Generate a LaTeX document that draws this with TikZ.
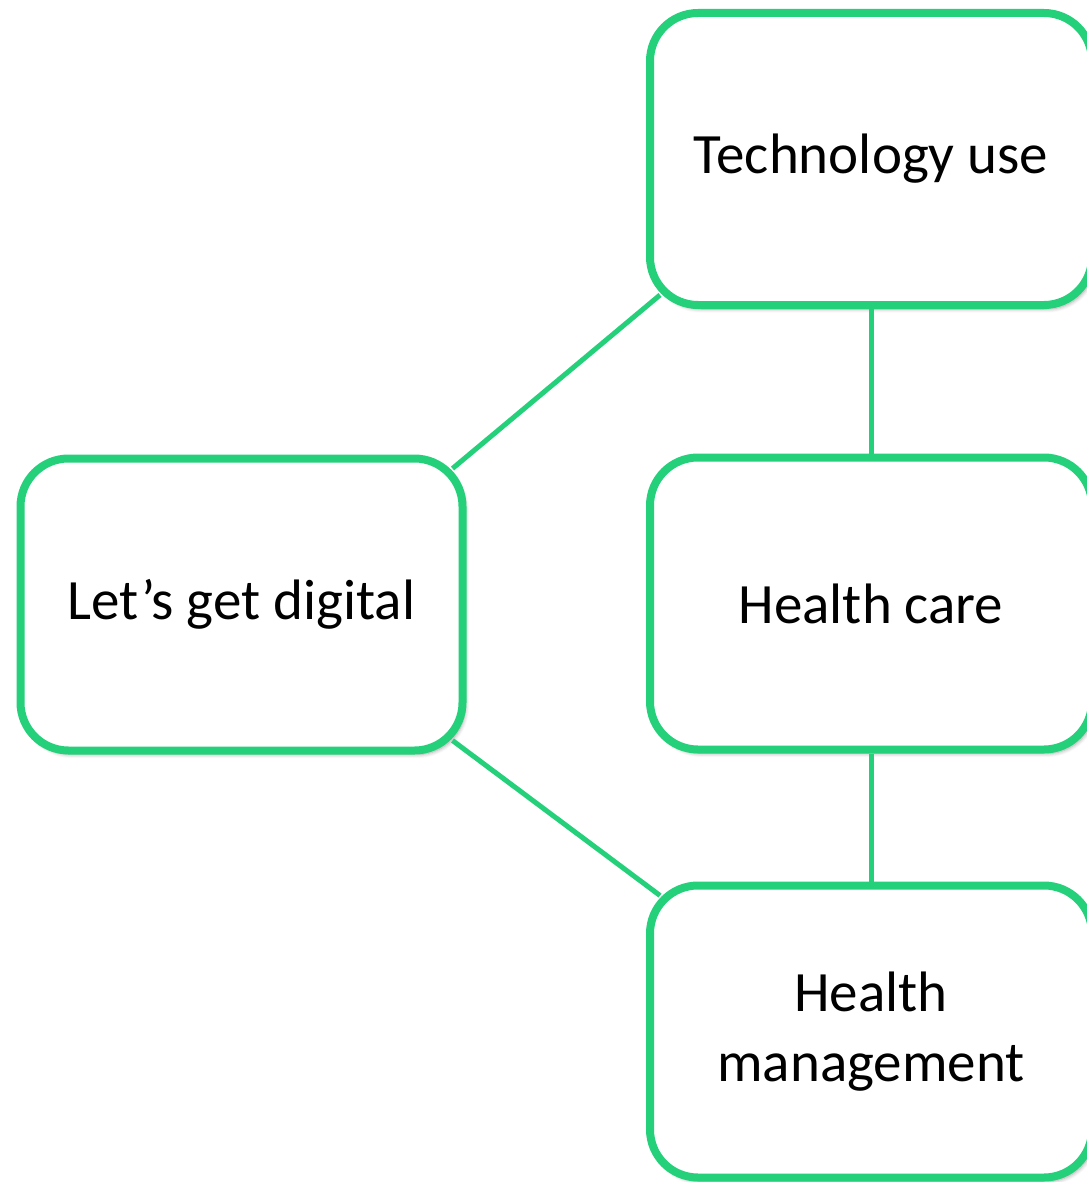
\documentclass[tikz,border=0pt]{standalone}
\usepackage{fontspec}
\setmainfont{Carlito}
\usepackage{tikz}
\usetikzlibrary{shadows.blur}
\definecolor{boxgreen}{RGB}{36,208,122}

\begin{document}
\begin{tikzpicture}[
  topic/.style={draw=boxgreen, line width=4pt, rounded corners=24pt, fill=white,
    minimum width=221pt, minimum height=146pt, align=center,
    font=\fontsize{28.5}{35}\selectfont,
    blur shadow={shadow xshift=1.5pt, shadow yshift=-2pt, shadow blur steps=6, shadow opacity=35}},
  link/.style={draw=boxgreen, line width=2.5pt}]
\useasboundingbox (0,0) rectangle (543pt,-591pt);
\node[topic] (tech) at (435.5pt,-79.5pt) {Technology use};
\node[topic] (care) at (435.5pt,-301.75pt) {Health care};
\node[topic] (mgmt) at (435.5pt,-515.75pt) {Health\\management};
\node[topic] (digital) at (120.75pt,-302.25pt) {Let’s get digital};
\draw[link] ([shift={(-7pt,-7pt)}]digital.north east) -- ([shift={(7pt,7pt)}]tech.south west);
\draw[link] ([shift={(-7pt,7pt)}]digital.south east) -- ([shift={(7pt,-7pt)}]mgmt.north west);
\draw[link] (tech.south) -- (care.north);
\draw[link] (care.south) -- (mgmt.north);
\end{tikzpicture}
\end{document}
